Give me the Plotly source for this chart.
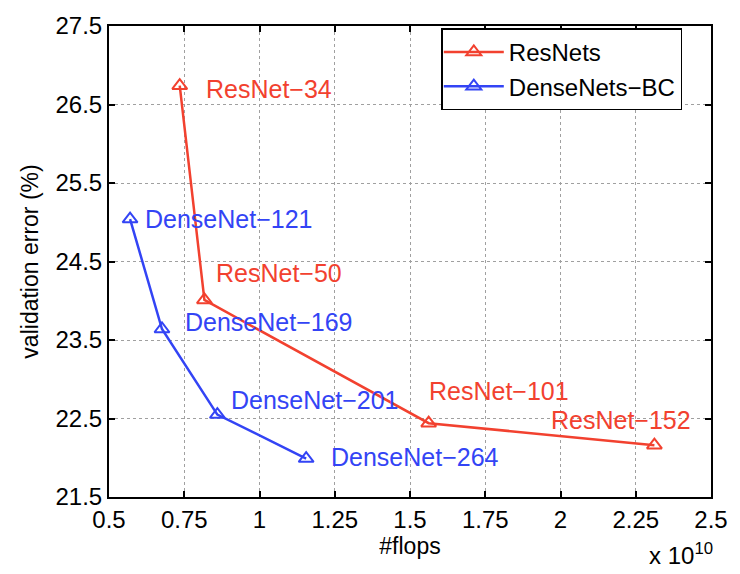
import plotly.graph_objects as go

# FLOPs (in units of 1e10) and top-1 validation error (%)
resnet_names = ["ResNet\u221234", "ResNet\u221250", "ResNet\u2212101", "ResNet\u2212152"]
resnet_flops = [0.735, 0.817, 1.562, 2.312]
resnet_error = [26.74, 24.01, 22.44, 22.16]

densenet_names = ["DenseNet\u2212121", "DenseNet\u2212169", "DenseNet\u2212201", "DenseNet\u2212264"]
densenet_flops = [0.570, 0.676, 0.860, 1.155]
densenet_error = [25.04, 23.64, 22.55, 21.99]

x_ticks = [0.5, 0.75, 1, 1.25, 1.5, 1.75, 2, 2.25, 2.5]
x_tick_text = ["0.5", "0.75", "1", "1.25", "1.5", "1.75", "2", "2.25", "2.5"]
y_ticks = [21.5, 22.5, 23.5, 24.5, 25.5, 26.5, 27.5]
y_tick_text = ["21.5", "22.5", "23.5", "24.5", "25.5", "26.5", "27.5"]

# label offsets in pixels (x, y) relative to each point
resnet_offsets = [(24, -3), (10, 27), (-2, 32), (-105, 25)]
densenet_offsets = [(13, 0), (21, 7), (12, 15), (23, 2)]

RED = "#F2412F"
BLUE = "#3344F5"
FONT = "Liberation Sans, Arial, Helvetica, sans-serif"

fig = go.Figure()
fig.add_trace(go.Scatter(
    x=resnet_flops, y=resnet_error, mode="lines+markers", name="ResNets",
    line=dict(color=RED, width=2.5),
    marker=dict(symbol="triangle-up-open", size=13, color=RED, line=dict(width=2, color=RED)),
))
fig.add_trace(go.Scatter(
    x=densenet_flops, y=densenet_error, mode="lines+markers", name="DenseNets\u2212BC",
    line=dict(color=BLUE, width=2.5),
    marker=dict(symbol="triangle-up-open", size=13, color=BLUE, line=dict(width=2, color=BLUE)),
))

annotations = []
for names, xs, ys, offs, col in [
    (resnet_names, resnet_flops, resnet_error, resnet_offsets, RED),
    (densenet_names, densenet_flops, densenet_error, densenet_offsets, BLUE),
]:
    for n, xv, yv, (dx, dy) in zip(names, xs, ys, offs):
        annotations.append(dict(
            x=xv, y=yv, xref="x", yref="y", text=n, showarrow=False,
            xanchor="left", yanchor="middle", xshift=dx, yshift=dy,
            font=dict(family=FONT, size=25, color=col),
        ))

annotations.append(dict(
    x=1, y=0, xref="paper", yref="paper", text="x 10<sup>10</sup>", showarrow=False,
    xanchor="right", yanchor="top", xshift=4, yshift=-40,
    font=dict(family=FONT, size=24, color="black"),
))

axis_common = dict(
    showline=True, linecolor="black", linewidth=2, mirror="ticks",
    ticks="inside", ticklen=6, tickwidth=1.5, tickcolor="black",
    showgrid=True, gridcolor="#a0a0a0", gridwidth=1, griddash="dot",
    zeroline=False, tickfont=dict(family=FONT, size=24, color="black"),
)

fig.update_layout(
    width=740, height=574,
    margin=dict(l=109, r=26, t=18, b=77),
    paper_bgcolor="white", plot_bgcolor="white",
    font=dict(family=FONT, color="black"),
    xaxis=dict(range=[0.5, 2.5], tickvals=x_ticks, ticktext=x_tick_text,
               title=dict(text="#flops", font=dict(family=FONT, size=23), standoff=2),
               **axis_common),
    yaxis=dict(range=[21.5, 27.5], tickvals=y_ticks, ticktext=y_tick_text,
               title=dict(text="validation error (%)", font=dict(family=FONT, size=23), standoff=10),
               **axis_common),
    legend=dict(x=0.552, y=0.995, xanchor="left", yanchor="top",
                bordercolor="black", borderwidth=1.5, bgcolor="white",
                font=dict(family=FONT, size=24), itemwidth=60, tracegroupgap=0,
                indentation=-4),
    annotations=annotations,
    showlegend=True,
)

fig.write_html("out.html")
